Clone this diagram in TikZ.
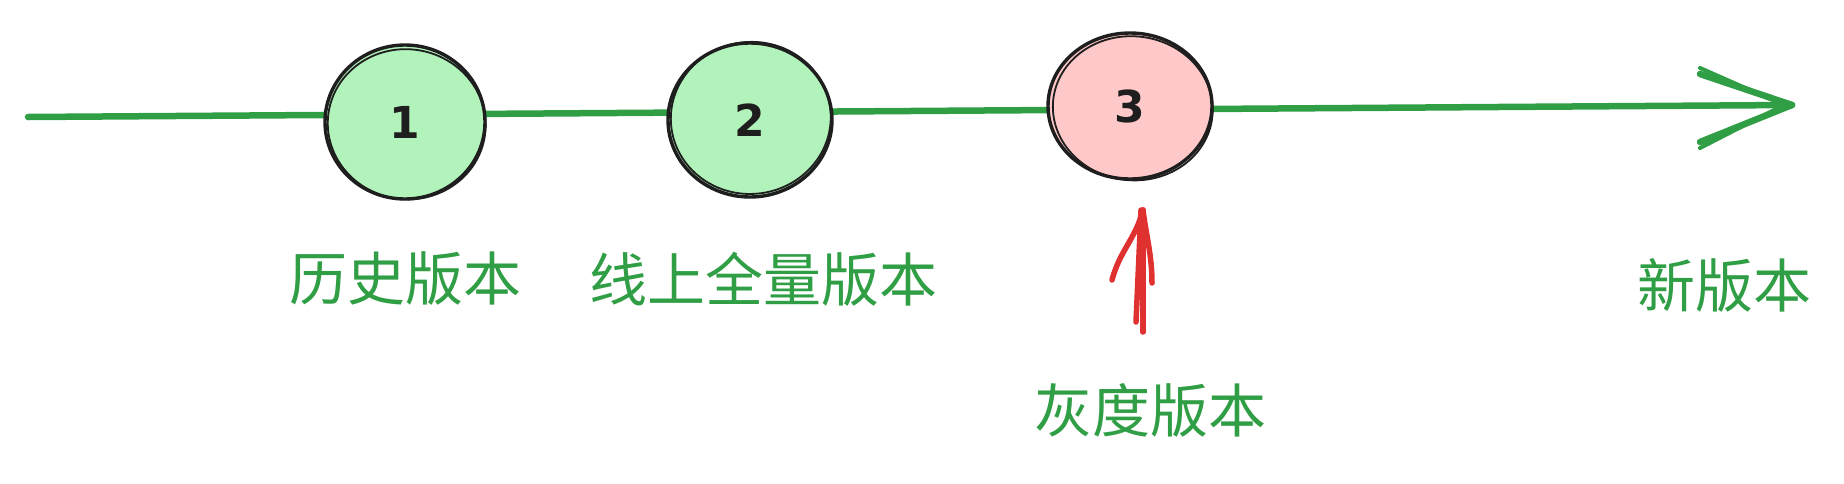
\documentclass[tikz,border=0pt]{standalone}
\usepackage{fontspec}
\setmainfont{Noto Sans}
\newfontfamily\cjk{Noto Sans CJK SC}
\newfontfamily\digfont{DejaVu Sans}
\usetikzlibrary{shapes.geometric}
\definecolor{exgreen}{HTML}{2F9E44}
\definecolor{lightgreen}{HTML}{B2F2BB}
\definecolor{lightred}{HTML}{FFC9C9}
\definecolor{exred}{HTML}{E03131}
\definecolor{exblack}{HTML}{1E1E1E}
\tikzset{
  x=1pt, y=-1pt,
  stage/.style={ellipse, draw=exblack, line width=3.4pt, inner sep=0pt,
    font=\digfont\bfseries\fontsize{44}{44}\selectfont, text=exblack},
  sketch/.style={draw=exblack, line width=1.8pt},
  label/.style={font=\cjk\fontsize{58}{58}\selectfont, text=exgreen, inner sep=0pt},
  greenline/.style={draw=exgreen, line width=6.5pt, line cap=round, line join=round},
  redline/.style={draw=exred, line width=5.5pt, line cap=round, line join=round}
}
\begin{document}
\begin{tikzpicture}
\useasboundingbox (0,0) rectangle (1844,483);
% main timeline
\coordinate (start) at (28,117);
\coordinate (tip) at (1792,105);
\coordinate (barbA) at (1700,74);
\coordinate (barbB) at (1700,142);
\draw[greenline] (start) -- (tip);
\draw[greenline] (barbA) -- (tip) -- (barbB);
\draw[greenline, line width=4pt] ([yshift=6pt]barbA) -- ([xshift=-8pt]tip);
\draw[greenline, line width=4pt] ([yshift=-6pt]barbB) -- ([xshift=-8pt]tip);
% stages
\node[stage, fill=lightgreen, minimum width=160pt, minimum height=154pt] (c1) at (405,122) {1};
\node[stage, fill=lightgreen, minimum width=164pt, minimum height=154pt] (c2) at (750,120) {2};
\node[stage, fill=lightred, minimum width=164pt, minimum height=146pt] (c3) at (1130,106) {3};
% sketchy second strokes
\draw[sketch, rotate around={-8:(c1.center)}] ([xshift=2pt,yshift=-2pt]c1.center) ellipse [x radius=79pt, y radius=75pt];
\draw[sketch, rotate around={6:(c2.center)}] ([xshift=1pt,yshift=2pt]c2.center) ellipse [x radius=80pt, y radius=76pt];
\draw[sketch, rotate around={-6:(c3.center)}] ([xshift=3pt,yshift=-2pt]c3.center) ellipse [x radius=80pt, y radius=72pt];
% labels
\node[label] (l1) at (405,279) {历史版本};
\node[label] (l2) at (763,279) {线上全量版本};
\node[label] (l3) at (1150,410) {灰度版本};
\node[label] (l4) at (1724,285) {新版本};
% red arrow
\coordinate (rtail) at (1143,332);
\coordinate (rtip) at (1143,210);
\coordinate (rbarbA) at (1112,280);
\coordinate (rbarbB) at (1152,283);
\draw[redline] (rtail) -- (rtip);
\draw[redline] ([xshift=-7pt,yshift=10pt]rtail) -- ([xshift=-2pt]rtip);
\draw[redline] (rbarbA) .. controls (1120,250) and (1135,240) .. (rtip);
\draw[redline] (rbarbB) .. controls (1152,255) and (1146,235) .. (rtip);
\end{tikzpicture}
\end{document}
